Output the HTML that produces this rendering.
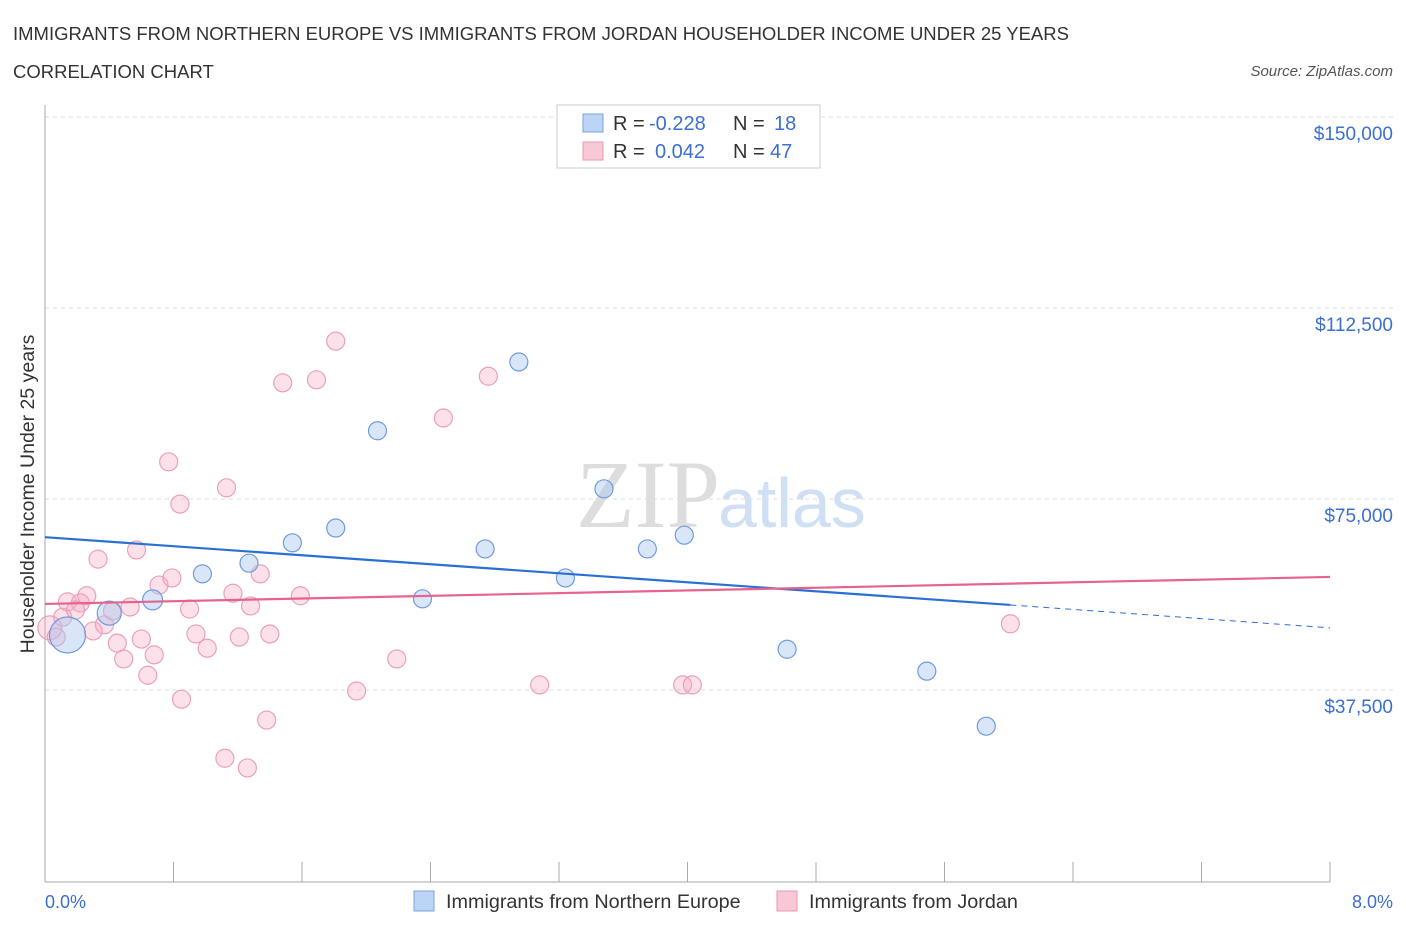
<!DOCTYPE html>
<html><head><meta charset="utf-8"><style>
body{margin:0;background:#fff;font-family:"Liberation Sans",sans-serif;}
svg{display:block}
</style></head><body>
<svg id="chart" width="1406" height="930" xmlns="http://www.w3.org/2000/svg">
<text x="13" y="40" font-size="18.5" fill="#333">IMMIGRANTS FROM NORTHERN EUROPE VS IMMIGRANTS FROM JORDAN HOUSEHOLDER INCOME UNDER 25 YEARS</text>
<text x="13" y="78" font-size="18.5" fill="#333">CORRELATION CHART</text>
<text x="1393" y="76" font-size="15" fill="#555" text-anchor="end" font-style="italic">Source: ZipAtlas.com</text>
<text x="720" y="527" font-size="96" fill="#ddd" text-anchor="end" font-family="Liberation Serif">ZIP</text>
<text x="718" y="527" font-size="70" fill="#cfe0f4">atlas</text>
<g id="grid"></g><g id="pts"></g><g id="trend"></g>
<text transform="translate(34,494) rotate(-90)" font-size="19.5" fill="#333" text-anchor="middle">Householder Income Under 25 years</text>
<text x="45" y="908" font-size="18" fill="#3b6fd1">0.0%</text>
<text x="1393" y="908" font-size="18" fill="#3b6fd1" text-anchor="end">8.0%</text>
<g font-size="20">
<rect x="557" y="105" width="263" height="63" fill="#fff" stroke="#ccc"/>
<rect x="583" y="114" width="20" height="18" fill="#bcd4f6" stroke="#7aa3e0"/>
<rect x="583" y="142" width="20" height="18" fill="#f9c8d6" stroke="#e99ab2"/>
<text x="613" y="130" fill="#333">R =</text>
<text x="649" y="130" fill="#3b6fd1">-0.228</text>
<text x="733" y="130" fill="#333">N =</text>
<text x="774" y="130" fill="#3b6fd1">18</text>
<text x="613" y="158" fill="#333">R =</text>
<text x="655" y="158" fill="#3b6fd1">0.042</text>
<text x="733" y="158" fill="#333">N =</text>
<text x="770" y="158" fill="#3b6fd1">47</text>
</g>
<g>
<rect x="414" y="891" width="20" height="20" fill="#bcd4f6" stroke="#7aa3e0"/>
<text x="446" y="908" font-size="19.8" fill="#333">Immigrants from Northern Europe</text>
<rect x="777" y="891" width="20" height="20" fill="#f9c8d6" stroke="#e99ab2"/>
<text x="809" y="908" font-size="19.8" fill="#333">Immigrants from Jordan</text>
</g>
</svg>
<script>
const yTicks=[37500,75000,112500,150000];
const yTickLabels=["$37,500","$75,000","$112,500","$150,000"];
const blueX=[0.14,0.40,0.67,0.98,1.27,1.54,1.81,2.07,2.35,2.74,2.95,3.24,3.48,3.75,3.98,4.62,5.49,5.86];
const blueY=[48300,52600,55200,60300,62400,66400,69300,88400,55400,65200,101900,59500,77000,65200,67900,45500,41200,30400];
const blueR=[18,12,10,9,9,9,9,9,9,9,9,9,9,9,9,9,9,9];
const pinkX=[0.03,0.07,0.11,0.14,0.22,0.26,0.33,0.30,0.37,0.42,0.45,0.49,0.53,0.57,0.60,0.64,0.68,0.71,0.77,0.79,0.84,0.85,0.90,0.94,1.01,1.12,1.13,1.17,1.21,1.26,1.28,1.34,1.38,1.40,1.48,1.59,1.69,1.81,1.94,2.19,2.48,2.76,3.08,3.97,4.03,6.01,0.19];
const pinkY=[49700,47900,51800,54800,54600,56000,63200,49100,50300,53000,46700,43600,53800,65000,47500,40400,44400,58100,82300,59500,74000,35700,53400,48500,45700,24100,77200,56500,47900,22200,54000,60300,31600,48500,97800,56000,98400,106000,37300,43600,90900,99100,38500,38500,38500,50500,53200];
const blueTrendX=[0,6.01,8];
const blueTrendY=[67500,54200,49700];
const pinkTrendX=[0,8];
const pinkTrendY=[54400,59700];
const X=v=>45+v/8*1285, Y=v=>881-v*191/37500;
const NS="http://www.w3.org/2000/svg";
function mk(t,a,p){const e=document.createElementNS(NS,t);for(const k in a)e.setAttribute(k,a[k]);p.appendChild(e);return e;}
const g=document.getElementById('grid');
yTicks.forEach((t,i)=>{
 const l=mk('line',{x1:45,x2:1393,y1:Y(t),y2:Y(t),stroke:'#ddd','stroke-dasharray':'4,4'},g);
 
 
 const tx=mk('text',{x:1393,y:Y(t)+23,'font-size':19,fill:'#3b6fd1','text-anchor':'end'},g);
 tx.textContent=yTickLabels[i];
 
 
});
const ax=mk('line',{x1:45,x2:45,y1:105,y2:882,stroke:'#aaa'},g);


const bx=mk('line',{x1:45,x2:1330,y1:882,y2:882,stroke:'#aaa'},g);


for(let i=0;i<=10;i++){const t=mk('line',{x1:X(i*0.8),x2:X(i*0.8),y1:862,y2:882,stroke:'#aaa'},g);
 
 }
const p=document.getElementById('pts');
pinkX.forEach((x,i)=>{const c=mk('circle',{cx:X(x),cy:Y(pinkY[i]),r:i==0?12:9,fill:'rgba(246,170,195,0.35)',stroke:'#eba0b8','stroke-width':1.2},p);
 
 });
blueX.forEach((x,i)=>{const c=mk('circle',{cx:X(x),cy:Y(blueY[i]),r:blueR[i],fill:'rgba(170,200,240,0.45)',stroke:'#6f9be0','stroke-width':1.2},p);
 
 });
const tr=document.getElementById('trend');
const b1=mk('line',{x1:X(blueTrendX[0]),y1:Y(blueTrendY[0]),x2:X(blueTrendX[1]),y2:Y(blueTrendY[1]),stroke:'#2a6fd6','stroke-width':2.2},tr);


const b2=mk('line',{x1:X(blueTrendX[1]),y1:Y(blueTrendY[1]),x2:X(blueTrendX[2]),y2:Y(blueTrendY[2]),stroke:'#2a6fd6','stroke-width':1,'stroke-dasharray':'6,5'},tr);


const p1=mk('line',{x1:X(pinkTrendX[0]),y1:Y(pinkTrendY[0]),x2:X(pinkTrendX[1]),y2:Y(pinkTrendY[1]),stroke:'#e8628e','stroke-width':2.2},tr);


</script>
</body></html>
